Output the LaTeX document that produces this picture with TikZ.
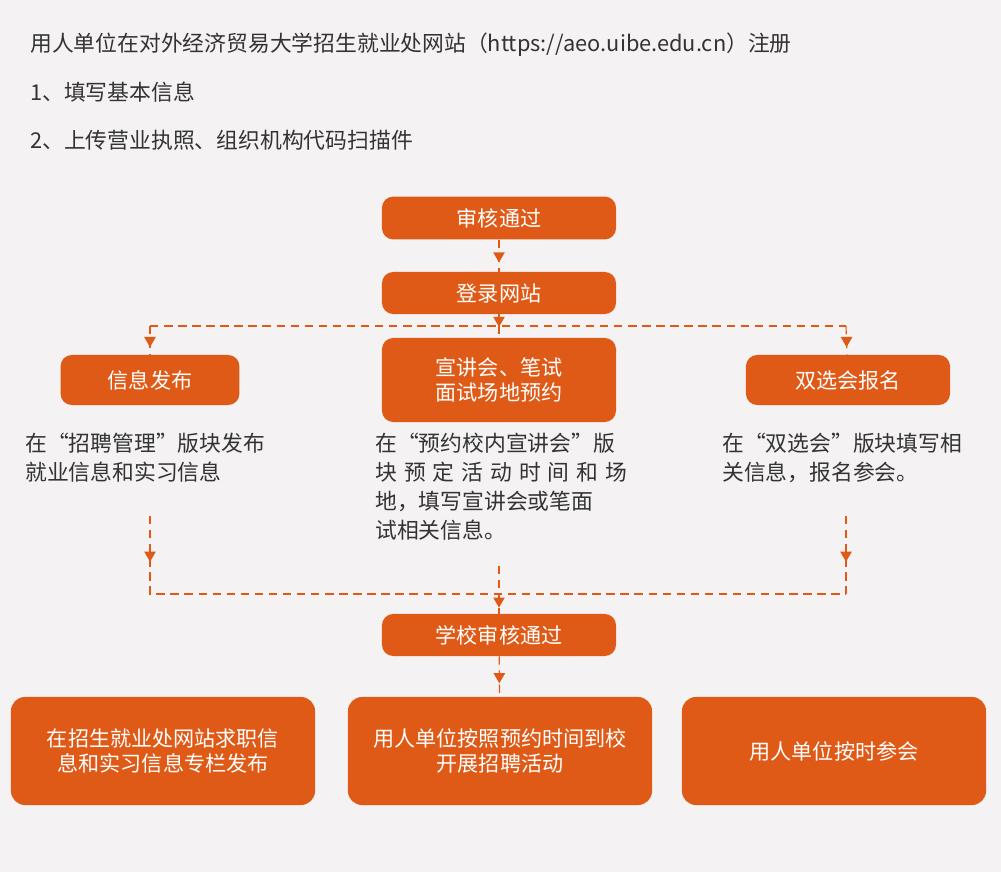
\documentclass[tikz,border=0pt]{standalone}
\usepackage{fontspec}
\setmainfont{Noto Sans CJK SC}
\usetikzlibrary{shapes.geometric}
\definecolor{org}{HTML}{E05A17}
\definecolor{bgc}{HTML}{F4F2F2}
\definecolor{txt}{HTML}{333333}
\tikzset{step box/.style={rectangle,rounded corners=8pt,fill=org,text=white,font=\fontsize{15}{18}\selectfont,align=center}}
\tikzset{big box/.style={step box,rounded corners=10pt,minimum width=7.6cm,minimum height=2.7cm}}
\tikzset{desc/.style={anchor=north west,text=txt,font=\fontsize{15.5}{20.5}\selectfont,align=left,inner sep=0pt}}
\tikzset{flow/.style={draw=org,thick,dash pattern=on 6pt off 4pt}}
\tikzset{tri/.style={regular polygon,regular polygon sides=3,shape border rotate=180,fill=org,inner sep=1.7pt}}

\begin{document}
\begin{tikzpicture}[x=0.025cm,y=-0.025cm]
\fill[bgc] (0,0) rectangle (1001,872);
\useasboundingbox (0,0) rectangle (1001,872);

\node[desc,anchor=west] (h0) at (30,45) {用人单位在对外经济贸易大学招生就业处网站（https://aeo.uibe.edu.cn）注册};
\node[desc,anchor=west] (h1) at (30,92) {1、填写基本信息};
\node[desc,anchor=west] (h2) at (30,140) {2、上传营业执照、组织机构代码扫描件};

\node[step box,minimum width=5.85cm,minimum height=1.07cm] (pass) at (499,218) {审核通过};
\node[step box,minimum width=5.85cm,minimum height=1.05cm] (login) at (499,293) {登录网站};
\node[step box,minimum width=4.47cm,minimum height=1.25cm] (info) at (150,380) {信息发布};
\node[step box,minimum width=5.85cm,minimum height=2.1cm] (talk) at (499,380) {宣讲会、笔试\\面试场地预约};
\node[step box,minimum width=5.1cm,minimum height=1.25cm] (fair) at (848,380) {双选会报名};

\node[desc] (dinfo) at (25,433) {在“招聘管理”版块发布\\就业信息和实习信息};
\node[desc,text width=6.3cm] (dtalk) at (375,433) {在“预约校内宣讲会”版\\\makebox[6.3cm][s]{块\hfill 预\hfill 定\hfill 活\hfill 动\hfill 时\hfill 间\hfill 和\hfill 场}\\地，填写宣讲会或笔面\\试相关信息。};
\node[desc] (dfair) at (722,433) {在“双选会”版块填写相\\关信息，报名参会。};

\node[step box,minimum width=5.85cm,minimum height=1.05cm] (school) at (499,635) {学校审核通过};
\node[big box] (pub) at (163,751) {在招生就业处网站求职信\\息和实习信息专栏发布};
\node[big box] (visit) at (500,751) {用人单位按照预约时间到校\\开展招聘活动};
\node[big box] (attend) at (834,751) {用人单位按时参会};

\coordinate (top) at (499,326);
\coordinate (topl) at (150,326);
\coordinate (topr) at (846,326);
\coordinate (sl) at (150,516);
\coordinate (sr) at (846,516);
\coordinate (bl) at (150,594);
\coordinate (br) at (846,594);
\coordinate (sm) at (499,566);
\coordinate (bm) at (499,594);

\draw[flow] (pass) -- node[tri]{} (login);
\draw[flow] (login) -- node[tri]{} (top);
\draw[flow] (topl) -- (topr);
\draw[flow] (topl) -- node[tri]{} (info);
\draw[flow] (top) -- (talk);
\draw[flow] (topr) -- node[tri]{} (fair);
\draw[flow] (sl) -- node[tri]{} (bl) -- (br);
\draw[flow] (sr) -- node[tri]{} (br);
\draw[flow] (sm) -- (bm);
\draw[flow] (bm) -- node[tri,pos=0.35]{} (school);
\draw[flow] (school) -- node[tri]{} (visit);
\end{tikzpicture}
\end{document}
